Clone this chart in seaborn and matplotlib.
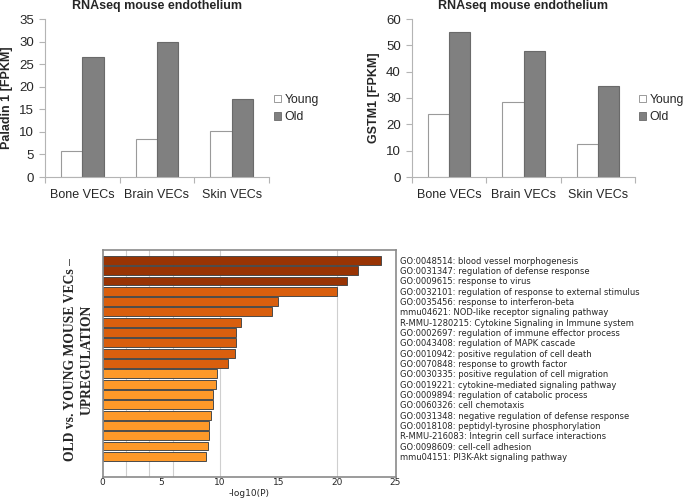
import matplotlib
matplotlib.use("Agg")
import matplotlib.pyplot as plt
from matplotlib.patches import Patch
import seaborn as sns
import pandas as pd

# ---- data ----
cells = ["Bone VECs", "Brain VECs", "Skin VECs"]
groups = ["Young", "Old"]
paladin_young = [5.8, 8.4, 10.1]
paladin_old = [26.5, 30.0, 17.2]
gstm1_young = [23.8, 28.4, 12.4]
gstm1_old = [54.9, 47.7, 34.4]

terms = [
    "GO:0048514: blood vessel morphogenesis",
    "GO:0031347: regulation of defense response",
    "GO:0009615: response to virus",
    "GO:0032101: regulation of response to external stimulus",
    "GO:0035456: response to interferon-beta",
    "mmu04621: NOD-like receptor signaling pathway",
    "R-MMU-1280215: Cytokine Signaling in Immune system",
    "GO:0002697: regulation of immune effector process",
    "GO:0043408: regulation of MAPK cascade",
    "GO:0010942: positive regulation of cell death",
    "GO:0070848: response to growth factor",
    "GO:0030335: positive regulation of cell migration",
    "GO:0019221: cytokine-mediated signaling pathway",
    "GO:0009894: regulation of catabolic process",
    "GO:0060326: cell chemotaxis",
    "GO:0031348: negative regulation of defense response",
    "GO:0018108: peptidyl-tyrosine phosphorylation",
    "R-MMU-216083: Integrin cell surface interactions",
    "GO:0098609: cell-cell adhesion",
    "mmu04151: PI3K-Akt signaling pathway",
]
neglogp = [23.8, 21.8, 20.9, 20.0, 15.0, 14.5, 11.8, 11.4, 11.35, 11.3,
           10.7, 9.8, 9.66, 9.4, 9.4, 9.26, 9.1, 9.1, 9.03, 8.86]
term_colors = ["#993404"] * 3 + ["#d95f0e"] * 8 + ["#fe9929"] * 9
x_ticks = [0, 5, 10, 15, 20, 25]
grid_x = [2, 4, 6, 10, 20]

sns.set_theme(style="white")
plt.rcParams["font.family"] = ["Liberation Sans", "DejaVu Sans"]

fig = plt.figure(figsize=(6.89, 4.98), dpi=100)

young_face = "white"
old_face = "#808080"
axis_gray = "#b4b4b4"


def top_chart(ax, young, old, ylabel, ymax, ystep):
    df = pd.DataFrame({
        "cell": cells * 2,
        "group": [groups[0]] * 3 + [groups[1]] * 3,
        "value": list(young) + list(old),
    })
    sns.barplot(data=df, x="cell", y="value", hue="group", order=cells,
                hue_order=groups, palette=[young_face, old_face],
                width=0.57, gap=0, ax=ax, legend=False, saturation=1)
    for i, p in enumerate(ax.patches):
        p.set_edgecolor("#9a9a9a" if i < 3 else "#6a6a6a")
        p.set_linewidth(0.8)
    ax.set_ylim(0, ymax)
    ax.set_yticks(range(0, ymax + 1, ystep))
    ax.set_xlim(-0.5, 2.5)
    ax.set_xticks(range(3))
    ax.set_xticklabels(cells, fontsize=9)
    ax.set_xticks([-0.5, 0.5, 1.5, 2.5], minor=True)
    ax.tick_params(axis="x", which="major", length=0, pad=9)
    ax.tick_params(axis="x", which="minor", length=4, color=axis_gray,
                   width=0.8, direction="out", bottom=True)
    ax.tick_params(axis="y", length=4, color=axis_gray, width=0.8,
                   direction="out", left=True, labelsize=9.5, pad=4)
    for s in ["top", "right"]:
        ax.spines[s].set_visible(False)
    for s in ["left", "bottom"]:
        ax.spines[s].set_color(axis_gray)
        ax.spines[s].set_linewidth(0.8)
    ax.set_xlabel("")
    ax.set_ylabel(ylabel, fontsize=9, fontweight="bold", labelpad=4)
    ax.set_title("RNAseq mouse endothelium", fontsize=9, fontweight="bold",
                 pad=7)


ax1 = fig.add_axes([45 / 689, 1 - 177 / 498, 224 / 689, 158 / 498])
top_chart(ax1, paladin_young, paladin_old, "Paladin 1 [FPKM]", 35, 5)

ax2 = fig.add_axes([412 / 689, 1 - 177 / 498, 223 / 689, 158 / 498])
top_chart(ax2, gstm1_young, gstm1_old, "GSTM1 [FPKM]", 60, 10)

handles = [Patch(facecolor=young_face, edgecolor="#8a8a8a", linewidth=0.6),
           Patch(facecolor=old_face, edgecolor="#6a6a6a", linewidth=0.6)]
for xpos in (274, 639):
    fig.legend(handles, groups, loc="upper left",
               bbox_to_anchor=(xpos / 689, 1 - 94 / 498), frameon=False,
               fontsize=8.8, handlelength=0.55, handleheight=0.55,
               handletextpad=0.3, labelspacing=0.45, borderpad=0,
               borderaxespad=0)

# ---- bottom chart ----
ax3 = fig.add_axes([102.5 / 689, 1 - 477 / 498, 293 / 689, 227 / 498])
for gx in grid_x:
    ax3.axvline(gx, color="#cfcfcf", linewidth=0.8, zorder=0)
sns.barplot(x=neglogp, y=terms, hue=terms, palette=term_colors,
            orient="h", width=0.86, ax=ax3, legend=False, saturation=1,
            edgecolor="#4a4a4a", linewidth=0.7, zorder=2)
ax3.set_ylim(21.0, -1.0)
ax3.set_xlim(0, 25)
ax3.set_xticks(x_ticks)
ax3.set_xticklabels([str(t) for t in x_ticks], fontsize=6.5,
                    family="DejaVu Sans")
ax3.yaxis.tick_right()
ax3.set_yticks(range(len(terms)))
ax3.set_yticklabels(terms, fontsize=6.0, family="DejaVu Sans")
ax3.tick_params(axis="y", length=0, pad=3, right=False)
ax3.tick_params(axis="x", length=0, pad=1, bottom=True)
ax3.set_xlabel("-log10(P)", fontsize=6.5, family="DejaVu Sans", labelpad=1)
ax3.set_ylabel("")
for s in ax3.spines.values():
    s.set_visible(True)
    s.set_color("#8a8a8a")
    s.set_linewidth(1.2)

fig.text(79 / 689, 1 - 360 / 498, "OLD vs. YOUNG MOUSE VECs –\nUPREGULATION",
         rotation=90, ha="center", va="center", fontsize=9.8,
         fontweight="bold", family="Liberation Serif", linespacing=1.3,
         multialignment="center")

fig.savefig("out.png", dpi=100)
